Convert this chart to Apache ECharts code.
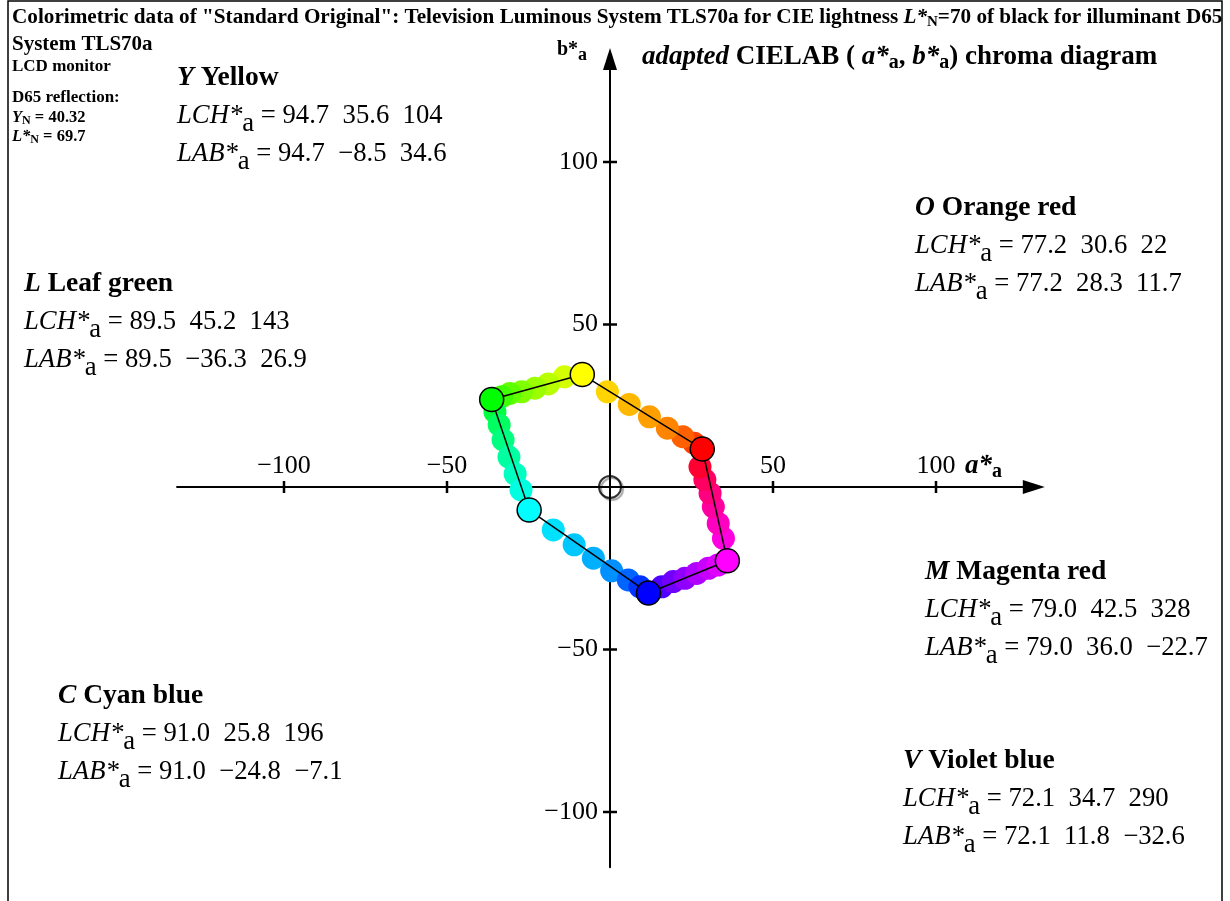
<!DOCTYPE html>
<html>
<head>
<meta charset="utf-8">
<script src="https://cdn.jsdelivr.net/npm/echarts@6/dist/echarts.min.js"></script>
<style>
  html, body { margin: 0; padding: 0; background: #fff; }
  #chart { width: 1230px; height: 901px; }
</style>
</head>
<body>
<div id="chart"></div>
<script>
// Hexagon corner colours (a*, b*) in hue order O, Y, L, C, V, M
const vertexKeys   = ['O', 'Y', 'L', 'C', 'V', 'M'];
const vertexNames  = ['Orange red', 'Yellow', 'Leaf green', 'Cyan blue', 'Violet blue', 'Magenta red'];
const vertexA      = [28.3, -8.5, -36.3, -24.8, 11.8, 36.0];
const vertexB      = [11.7, 34.6, 26.9, -7.1, -32.6, -22.7];
const vertexColors = ['#ff0000', '#ffff00', '#00ff00', '#00ffff', '#0000ff', '#ff00ff'];
const lchL         = [77.2, 94.7, 89.5, 91.0, 72.1, 79.0];
const lchC         = [30.6, 35.6, 45.2, 25.8, 34.7, 42.5];
const lchH         = [22, 104, 143, 196, 290, 328];

// Intermediate hue steps between the corners
const stepA = [25.8, 22.3, 17.6, 12.1, 5.9, -0.8,
               -14.0, -18.9, -23.0, -27.1, -30.7, -33.2,
               -35.3, -34.0, -32.8, -31.0, -29.1, -27.3,
               -17.4, -11.0, -5.1, 0.5, 5.6, 9.2,
               15.9, 19.4, 23.0, 26.6, 30.2, 33.1,
               34.8, 33.2, 31.7, 30.7, 29.1, 27.6];
const stepB = [13.5, 15.5, 18.1, 21.6, 25.4, 29.3,
               33.9, 31.7, 30.4, 29.3, 28.8, 27.8,
               23.1, 19.1, 14.5, 9.2, 4.0, -0.9,
               -13.2, -17.8, -21.9, -25.8, -28.6, -30.7,
               -30.7, -29.1, -28.1, -26.6, -25.0, -24.0,
               -15.8, -11.2, -6.1, -1.9, 2.2, 6.2];
const stepColors = ['#ff4000', '#ff6000', '#ff8400', '#ffa000', '#ffb800', '#ffd400',
                    '#d4ff00', '#b8ff00', '#9cff00', '#80ff00', '#60ff00', '#40ff00',
                    '#00ff40', '#00ff60', '#00ff80', '#00ffa0', '#00ffc0', '#00ffe0',
                    '#00e0ff', '#00c8ff', '#00b0ff', '#0090ff', '#0064ff', '#0034ff',
                    '#5000ff', '#7000ff', '#9000ff', '#b000ff', '#c800ff', '#e000ff',
                    '#ff00e0', '#ff00c0', '#ff00a0', '#ff0080', '#ff0060', '#ff0030'];

const tickValues = [-100, -50, 50, 100];

// ---- layout ----
const serif = '"Liberation Serif","DejaVu Serif","Times New Roman",serif';
const originPx = [610, 487];
const pxPerA = 3.26, pxPerB = 3.25;
const xMin = -132.8, xMax = 130, yMin = -117, yMax = 131.7;
const gridLeft = originPx[0] + xMin * pxPerA;
const gridWidth = (xMax - xMin) * pxPerA;
const gridTop = originPx[1] - yMax * pxPerB;
const gridHeight = (yMax - yMin) * pxPerB;

const labelPos = { O: [915, 208], Y: [177, 78], L: [24, 284], C: [58, 696], V: [903, 761], M: [925, 572] };
const lineGap = 38;

const minus = s => String(s).replace('-', '\u2212');
const f1 = v => minus(v.toFixed(1));

function rich(size, subSize, subDrop) {
  return {
    b:  { fontFamily: serif, fontSize: size, fontWeight: 'bold', fill: '#000' },
    bi: { fontFamily: serif, fontSize: size, fontWeight: 'bold', fontStyle: 'italic', fill: '#000' },
    i:  { fontFamily: serif, fontSize: size, fontStyle: 'italic', fill: '#000' },
    n:  { fontFamily: serif, fontSize: size, fill: '#000' },
    bs: { fontFamily: serif, fontSize: subSize, fontWeight: 'bold', fill: '#000', padding: [subDrop, 0, 0, 0] },
    ns: { fontFamily: serif, fontSize: subSize, fill: '#000', padding: [subDrop, 0, 0, 0] }
  };
}

function textEl(x, y, text, size, subSize, subDrop) {
  return {
    type: 'text', x: x, y: y, silent: true, z: 10,
    style: { text: text, rich: rich(size, subSize, subDrop), verticalAlign: 'middle', align: 'left' }
  };
}

const graphics = [
  { type: 'rect', shape: { x: 8, y: 1, width: 1214, height: 940 }, style: { fill: 'none', stroke: '#000', lineWidth: 1.5 }, silent: true },
  textEl(12, 18, '{b|Colorimetric data of "Standard Original": Television Luminous System TLS70a for CIE lightness }{bi|L*}{bs|N}{b|=70 of black for illuminant D65}', 21.2, 15, 9),
  textEl(12, 45, '{b|System TLS70a}', 21, 15, 9),
  textEl(12, 67, '{b|LCD monitor}', 17, 13, 6),
  textEl(12, 98, '{b|D65 reflection:}', 17, 13, 6),
  textEl(12, 118, '{bi|Y}{bs|N}{b| = 40.32}', 16.5, 12, 5),
  textEl(12, 137, '{bi|L*}{bs|N}{b| = 69.7}', 16.5, 12, 5),
  textEl(642, 57, '{bi|adapted}{b| CIELAB ( }{bi|a*}{bs|a}{b|, }{bi|b*}{bs|a}{b|) chroma diagram}', 27, 20, 11),
  textEl(965, 466, '{bi|a*}{bs|a}', 27, 20, 11),
  textEl(557, 50, '{b|b*}{bs|a}', 20, 18, 10)
];

vertexKeys.forEach((k, idx) => {
  const p = labelPos[k];
  graphics.push(textEl(p[0], p[1], '{bi|' + k + '}{b| ' + vertexNames[idx] + '}', 27.5, 27.5, 0));
  graphics.push(textEl(p[0], p[1] + lineGap,
    '{i|LCH*}{ns|a}{n| = ' + f1(lchL[idx]) + '  ' + f1(lchC[idx]) + '  ' + lchH[idx] + '}', 26.7, 26.7, 16));
  graphics.push(textEl(p[0], p[1] + 2 * lineGap,
    '{i|LAB*}{ns|a}{n| = ' + f1(lchL[idx]) + '  ' + f1(vertexA[idx]) + '  ' + f1(vertexB[idx]) + '}', 26.7, 26.7, 16));
});

// closed outline through the corners
const outline = vertexA.map((a, i) => [a, vertexB[i]]);
outline.push([vertexA[0], vertexB[0]]);

function tickRenderer(onX) {
  return function (params, api) {
    const v = onX ? api.value(0) : api.value(1);
    const p = onX ? api.coord([v, 0]) : api.coord([0, v]);
    const line = onX
      ? { x1: p[0], y1: p[1] - 6, x2: p[0], y2: p[1] + 6 }
      : { x1: p[0] - 7, y1: p[1], x2: p[0] + 7, y2: p[1] };
    return {
      type: 'group',
      children: [
        { type: 'line', shape: line, style: { stroke: '#000', lineWidth: 2.5 } },
        {
          type: 'text',
          style: {
            text: minus(v),
            x: onX ? p[0] : p[0] - 12,
            y: onX ? p[1] - 21 : p[1],
            font: '26px ' + serif,
            fill: '#000',
            align: onX ? 'center' : 'right',
            verticalAlign: 'middle'
          }
        }
      ]
    };
  };
}

const axisCommon = {
  type: 'value',
  axisLine: { show: true, onZero: true, lineStyle: { color: '#000', width: 2 }, symbol: ['none', 'triangle'], symbolSize: [14, 22] },
  axisTick: { show: false },
  axisLabel: { show: false },
  splitLine: { show: false }
};

const option = {
  backgroundColor: '#fff',
  animation: false,
  grid: { left: gridLeft, top: gridTop, width: gridWidth, height: gridHeight, containLabel: false, outerBoundsMode: 'none' },
  xAxis: Object.assign({ min: xMin, max: xMax }, axisCommon),
  yAxis: Object.assign({ min: yMin, max: yMax }, axisCommon),
  graphic: graphics,
  series: [
    { type: 'custom', renderItem: tickRenderer(true), data: tickValues.map(v => [v, 0]), silent: true, z: 2 },
    { type: 'custom', renderItem: tickRenderer(false), data: tickValues.map(v => [0, v]), silent: true, z: 2 },
    {
      type: 'scatter', symbol: 'circle', symbolSize: 23, z: 3, silent: true,
      data: stepA.map((a, i) => ({ value: [a, stepB[i]], itemStyle: { color: stepColors[i], opacity: 1 } }))
    },
    {
      type: 'line', data: outline, showSymbol: false, z: 4, silent: true,
      lineStyle: { color: '#000', width: 1.5 }
    },
    {
      type: 'scatter', symbol: 'circle', symbolSize: 24, z: 5, silent: true,
      data: vertexA.map((a, i) => ({ value: [a, vertexB[i]], itemStyle: { color: vertexColors[i], borderColor: '#000', borderWidth: 1.5, opacity: 1 } }))
    },
    {
      type: 'scatter', symbol: 'circle', symbolSize: 22, z: 5, silent: true,
      data: [[0, 0]],
      itemStyle: { color: 'rgba(0,0,0,0)', borderColor: '#000', borderWidth: 2, shadowColor: 'rgba(0,0,0,0.45)', shadowOffsetX: 2, shadowOffsetY: 2, shadowBlur: 1 }
    }
  ]
};

echarts.init(document.getElementById('chart'), null, { renderer: 'canvas' }).setOption(option);
</script>
</body>
</html>
